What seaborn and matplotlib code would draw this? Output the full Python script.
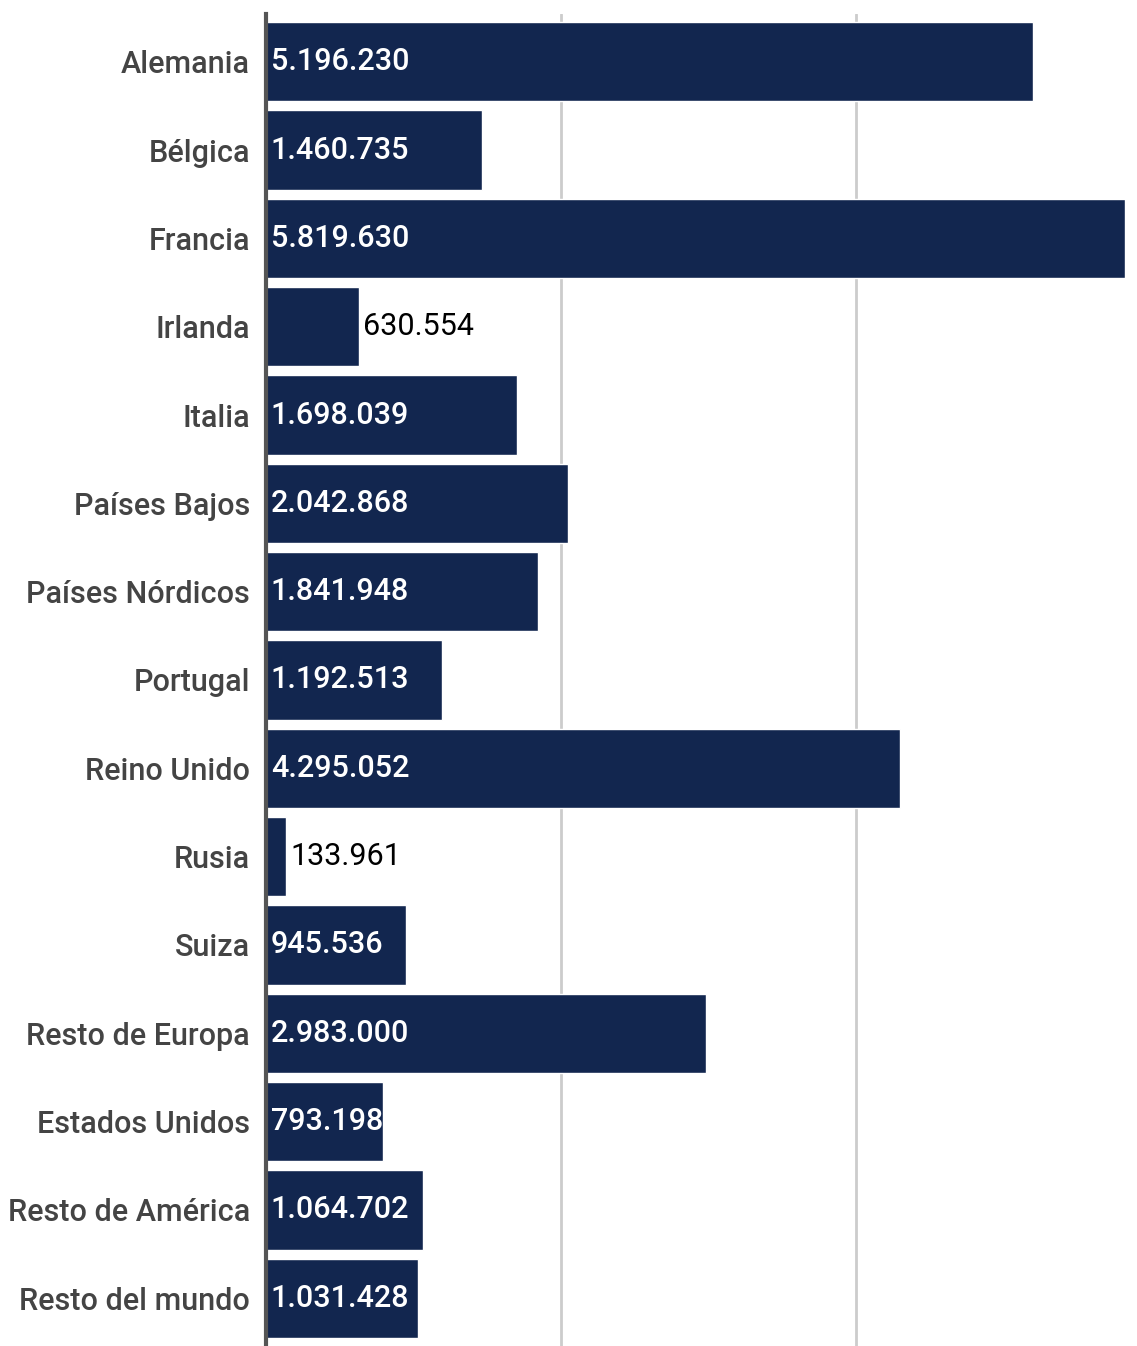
import matplotlib.pyplot as plt
import pandas as pd
import seaborn as sns
import numpy as np

# Data
paises = ['Alemania', 'Bélgica', 'Francia', 'Irlanda', 'Italia', 'Países Bajos',
          'Países Nórdicos', 'Portugal', 'Reino Unido', 'Rusia', 'Suiza',
          'Resto de Europa', 'Estados Unidos', 'Resto de América', 'Resto del mundo']
turistas = [5196230, 1460735, 5819630, 630554, 1698039, 2042868,
            1841948, 1192513, 4295052, 133961, 945536,
            2983000, 793198, 1064702, 1031428]
# labels drawn outside the bar (bar too short)
fuera = ['Irlanda', 'Rusia']

df = pd.DataFrame({'pais': paises, 'valor': turistas})

sns.set_style('white')
plt.rcParams['font.family'] = ['Roboto', 'DejaVu Sans']

fig = plt.figure(figsize=(11.37, 13.46), dpi=100)
ax = fig.add_axes([0.234, 0.0, 0.7555, 0.9896])

sns.barplot(data=df, y='pais', x='valor', orient='h', color='#12264f',
            saturation=1, width=0.9, ax=ax, zorder=2)

ax.set_xlim(0, max(turistas))
ax.set_ylim(len(paises) - 0.46, -0.54)
ax.set_xticks([2000000, 4000000])
ax.set_xticklabels([])
ax.tick_params(axis='both', length=0)
ax.grid(axis='x', color='#cccccc', linewidth=2, zorder=0)
ax.set_axisbelow(True)
for s in ['top', 'right', 'bottom']:
    ax.spines[s].set_visible(False)
ax.spines['left'].set_color('#555555')
ax.spines['left'].set_linewidth(3)
ax.spines['left'].set_zorder(3)
ax.set_xlabel('')
ax.set_ylabel('')
ax.set_yticks(range(len(paises)))
ax.set_yticklabels(paises, fontsize=22, color='#444444', fontweight='medium')
ax.tick_params(axis='y', pad=11.5)

# value labels, spanish thousands separator
for i, (p, v) in enumerate(zip(paises, turistas)):
    txt = f'{v:,}'.replace(',', '.')
    if p in fuera:
        ax.annotate(txt, (v, i), xytext=(3, 0), textcoords='offset points',
                    va='center', ha='left', fontsize=22, color='black')
    else:
        ax.annotate(txt, (0, i), xytext=(3.5, 0), textcoords='offset points',
                    va='center', ha='left', fontsize=22, color='white',
                    fontweight='medium')

fig.savefig('out.png', dpi=100)
